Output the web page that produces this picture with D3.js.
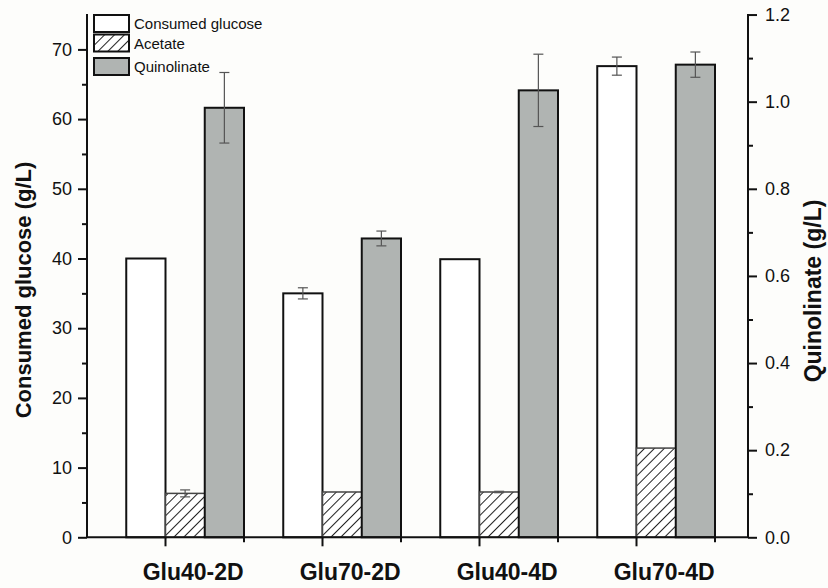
<!DOCTYPE html>
<html>
<head>
<meta charset="utf-8">
<title>Glucose, acetate and quinolinate</title>
<script src="https://cdn.jsdelivr.net/npm/d3@7"></script>
<style>
  body { margin: 0; background: #fdfdfb; }
  svg { display: block; font-family: "Liberation Sans", Arial, sans-serif; }
</style>
</head>
<body>
<div id="chart"></div>
<script>
// data
var categories = ["Glu40-2D", "Glu70-2D", "Glu40-4D", "Glu70-4D"];
var series = ["Consumed glucose", "Acetate", "Quinolinate"];
var glucose = [40.0, 35.0, 39.9, 67.6];
var glucoseErr = [0, 0.8, 0, 1.3];
var acetate = [6.3, 6.5, 6.5, 12.8];
var acetateErr = [0.5, 0, 0.1, 0];
var quinolinate = [0.986, 0.686, 1.026, 1.085];
var quinolinateErr = [0.081, 0.017, 0.083, 0.029];
var leftTicks = [0, 10, 20, 30, 40, 50, 60, 70];
var rightTicks = [0.0, 0.2, 0.4, 0.6, 0.8, 1.0, 1.2];

var W = 828, H = 588;
var x0px = 87, x1px = 748, yBottom = 537.3, yTop = 14;
var bw = 39.25;

var svg = d3.select("#chart").append("svg")
    .attr("width", W).attr("height", H);

// hatch for acetate
var defs = svg.append("defs");
var pat = defs.append("pattern")
    .attr("id", "hatch")
    .attr("patternUnits", "userSpaceOnUse")
    .attr("width", 7).attr("height", 7)
    .attr("patternTransform", "rotate(45)");
pat.append("rect").attr("width", 7).attr("height", 7).attr("fill", "#fff");
pat.append("line")
    .attr("x1", 0.5).attr("y1", 0).attr("x2", 0.5).attr("y2", 7)
    .attr("stroke", "#222").attr("stroke-width", 1);

var xGroup = d3.scaleBand()
    .domain(categories)
    .range([x0px + bw, x0px + 16 * bw])
    .paddingInner(0.25).paddingOuter(0);
var xSeries = d3.scaleBand()
    .domain(series)
    .range([0, xGroup.bandwidth()]);

var yLeft = d3.scaleLinear().domain([0, 75]).range([yBottom, yBottom - 75 * 6.97]);
var yRight = d3.scaleLinear().domain([0, 1.2]).range([yBottom, yBottom - 75 * 6.97]);

var rows = categories.map(function(c, i) {
  return [
    {cat: c, s: series[0], v: glucose[i], e: glucoseErr[i], y: yLeft},
    {cat: c, s: series[1], v: acetate[i], e: acetateErr[i], y: yLeft},
    {cat: c, s: series[2], v: quinolinate[i], e: quinolinateErr[i], y: yRight}
  ];
});
var fills = {"Consumed glucose": "#ffffff", "Acetate": "url(#hatch)", "Quinolinate": "#b0b4b2"};

var bars = svg.append("g").selectAll("g")
  .data(rows).join("g")
    .attr("transform", function(d, i) { return "translate(" + xGroup(categories[i]) + ",0)"; });

bars.selectAll("rect")
  .data(function(d) { return d; }).join("rect")
    .attr("x", function(d) { return xSeries(d.s); })
    .attr("y", function(d) { return d.y(d.v); })
    .attr("width", xSeries.bandwidth())
    .attr("height", function(d) { return yBottom - d.y(d.v); })
    .attr("fill", function(d) { return fills[d.s]; })
    .attr("stroke", function(d) { return d.s == "Acetate" ? "#444" : "#111"; })
    .attr("stroke-width", function(d) { return d.s == "Acetate" ? 1.5 : 2; });

// error bars
var eb = bars.selectAll("g.err")
  .data(function(d) { return d.filter(function(r) { return r.e > 0; }); })
  .join("g").attr("class", "err")
    .attr("stroke", "#555").attr("stroke-width", 1.2);
eb.append("line")
    .attr("x1", function(d) { return xSeries(d.s) + xSeries.bandwidth() / 2; })
    .attr("x2", function(d) { return xSeries(d.s) + xSeries.bandwidth() / 2; })
    .attr("y1", function(d) { return d.y(d.v + d.e); })
    .attr("y2", function(d) { return d.y(d.v - d.e); });
eb.selectAll("line.cap")
  .data(function(d) { return [d.v + d.e, d.v - d.e].map(function(v) { return {d: d, v: v}; }); })
  .join("line").attr("class", "cap")
    .attr("x1", function(c) { return xSeries(c.d.s) + xSeries.bandwidth() / 2 - 5; })
    .attr("x2", function(c) { return xSeries(c.d.s) + xSeries.bandwidth() / 2 + 5; })
    .attr("y1", function(c) { return c.d.y(c.v); })
    .attr("y2", function(c) { return c.d.y(c.v); });

// axes
var ax = svg.append("g").attr("stroke", "#111").attr("stroke-width", 2);
ax.append("line").attr("x1", x0px).attr("x2", x1px).attr("y1", yBottom).attr("y2", yBottom);
ax.append("line").attr("x1", x0px).attr("x2", x0px).attr("y1", yTop).attr("y2", yBottom);
ax.append("line").attr("x1", x1px).attr("x2", x1px).attr("y1", yTop).attr("y2", yBottom);

// x ticks: long at group start + one bar, short at group end
categories.forEach(function(c) {
  var a = xGroup(c) + xSeries("Acetate");
  var b = xGroup(c) + xGroup.bandwidth();
  ax.append("line").attr("x1", a).attr("x2", a).attr("y1", yBottom).attr("y2", yBottom + 9);
  ax.append("line").attr("x1", b).attr("x2", b).attr("y1", yBottom).attr("y2", yBottom + 5);
});

function styleAxis(g) {
  g.select(".domain").remove();
  g.selectAll(".tick line").attr("stroke", "#111").attr("stroke-width", 2);
  g.selectAll(".tick text").attr("fill", "#111").attr("font-size", 18)
    .attr("font-family", "'Liberation Sans', Arial, sans-serif");
}

svg.append("g").attr("transform", "translate(" + x0px + ",0)")
  .call(d3.axisLeft(yLeft).tickValues(d3.range(5, 75, 10)).tickSize(5).tickFormat(""))
  .call(styleAxis);
svg.append("g").attr("transform", "translate(" + x0px + ",0)")
  .call(d3.axisLeft(yLeft).tickValues(leftTicks).tickSize(9).tickPadding(6).tickFormat(d3.format("d")))
  .call(styleAxis);

svg.append("g").attr("transform", "translate(" + x1px + ",0)")
  .call(d3.axisRight(yRight).tickValues(d3.range(0.1, 1.2, 0.2)).tickSize(5).tickFormat(""))
  .call(styleAxis);
svg.append("g").attr("transform", "translate(" + x1px + ",0)")
  .call(d3.axisRight(yRight).tickValues(rightTicks).tickSize(9).tickPadding(8).tickFormat(d3.format(".1f")))
  .call(styleAxis);

// category labels
svg.append("g").selectAll("text")
  .data(categories).join("text")
    .attr("x", function(c) { return xGroup(c) + xGroup.bandwidth() / 2 + 8; })
    .attr("y", 580)
    .attr("text-anchor", "middle")
    .attr("font-size", 23).attr("font-weight", "bold").attr("fill", "#111")
    .text(function(c) { return c; });

// axis titles
svg.append("text")
    .attr("transform", "translate(31,290) rotate(-90)")
    .attr("text-anchor", "middle")
    .attr("font-size", 22).attr("font-weight", "bold").attr("fill", "#111")
    .text("Consumed glucose (g/L)");
svg.append("text")
    .attr("transform", "translate(821,291) rotate(-90)")
    .attr("text-anchor", "middle")
    .attr("font-size", 23).attr("font-weight", "bold").attr("fill", "#111")
    .text("Quinolinate (g/L)");

// legend
var lg = svg.append("g").attr("transform", "translate(94,15)");
var ly = [0, 19.5, 43];
series.forEach(function(s, i) {
  lg.append("rect")
    .attr("x", 0).attr("y", ly[i]).attr("width", 35).attr("height", 17)
    .attr("fill", fills[s])
    .attr("stroke", "#111").attr("stroke-width", 2);
  lg.append("text")
    .attr("x", 40).attr("y", ly[i] + 14)
    .attr("font-size", 15).attr("fill", "#111")
    .text(s);
});
</script>
</body>
</html>
